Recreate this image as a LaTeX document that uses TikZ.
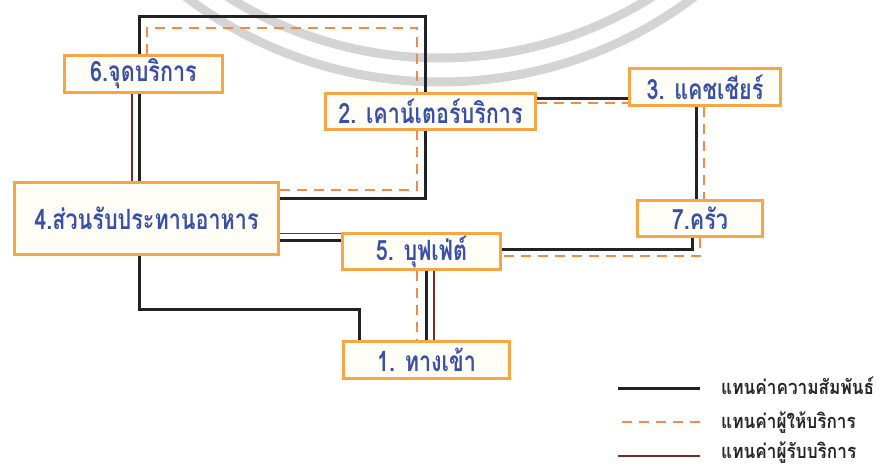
\documentclass[tikz,border=0pt]{standalone}
\usepackage{fontspec}
\newfontfamily\thaifont[Script=Thai,FakeStretch=0.77,BoldFont={Loma Bold}]{Loma}
\newfontfamily\legendfont[Script=Thai,FakeStretch=0.86,BoldFont={Loma Bold}]{Loma}
\definecolor{boxorange}{HTML}{F7A545}
\definecolor{boxfill}{HTML}{FFFEF6}
\definecolor{textblue}{HTML}{3A4FA8}
\definecolor{relblack}{HTML}{222222}
\definecolor{srvorange}{HTML}{F28A4A}
\definecolor{cusbrown}{HTML}{7B2A2A}
\definecolor{wmgray}{HTML}{D4D4D4}
\pgfdeclarelayer{background}
\pgfsetlayers{background,main}

\begin{document}
\begin{tikzpicture}[
    x=1pt, y=-1pt,
    area/.style={
        rectangle,
        draw=boxorange,
        line width=3pt,
        fill=boxfill,
        text=textblue,
        inner sep=0pt,
        font=\thaifont\bfseries\fontsize{28}{30}\selectfont
    },
    legend/.style={
        anchor=base west,
        inner sep=0pt,
        text=black!85,
        font=\legendfont\bfseries\fontsize{20}{22}\selectfont
    },
    relline/.style={
        draw=relblack,
        line width=3pt
    },
    srvline/.style={
        draw=srvorange,
        line width=2pt,
        dash pattern=on 10pt off 7pt
    },
    cusline/.style={
        draw=cusbrown,
        line width=1.6pt
    },
    wmark/.style={
        draw=wmgray,
        line width=9pt
    }
]
\useasboundingbox (0,0) rectangle (881,467);

% Areas
\node[area, minimum width=158pt, minimum height=37pt] (service) at (143.5,74) {6.จุดบริการ};
\node[area, minimum width=210pt, minimum height=36pt] (counter) at (430.5,111.5) {2. เคาน์เตอร์บริการ};
\node[area, minimum width=151pt, minimum height=37pt] (cashier) at (705,87) {3. แคชเชียร์};
\node[area, minimum width=264pt, minimum height=72pt] (dining) at (146.5,218.5) {4.ส่วนรับประทานอาหาร};
\node[area, minimum width=125pt, minimum height=36pt] (kitchen) at (700,218.5) {7.ครัว};
\node[area, minimum width=158pt, minimum height=36pt] (buffet) at (421.5,251.5) {5. บุฟเฟ่ต์};
\node[area, minimum width=166pt, minimum height=37pt] (entrance) at (426.5,360) {1. ทางเข้า};

% Legend
\node[legend] (legrel) at (721,394) {แทนค่าความสัมพันธ์};
\node[legend] (legsrv) at (721,428) {แทนค่าผู้ให้บริการ};
\node[legend] (legcus) at (721,458) {แทนค่าผู้รับบริการ};

\begin{pgfonlayer}{background}
% Watermark
\draw[wmark] (440,-340) circle (398);
\draw[wmark] (440,-340) circle (422);

% Relations
\draw[relline] ([xshift=-4.5pt]service.south) -- ([xshift=-7.5pt]dining.north);
\draw[relline] ([xshift=-4.5pt]service.north) -- ++(0,-37.5) -| ([xshift=-5.5pt]counter.north);
\draw[relline] ([yshift=20.5pt]dining.east) -| ([xshift=-5.5pt]counter.south);
\draw[relline] ([yshift=13.5pt]counter.east) -- ([yshift=-11pt]cashier.west);
\draw[relline] ([xshift=-9pt]cashier.south) -- ([xshift=-4pt]kitchen.north);
\draw[relline] ([xshift=-8pt]kitchen.south) |- ([yshift=2.5pt]buffet.east);
\draw[relline] ([yshift=-21.5pt]dining.east) -- ([yshift=11.5pt]buffet.west);
\draw[relline] ([xshift=4.5pt]buffet.south) -- ([xshift=-0.5pt]entrance.north);
\draw[relline] ([xshift=-7.5pt]dining.south) -- ++(0,53.5) -| ([xshift=-67.5pt]entrance.north);

% Service providers
\draw[srvline] ([xshift=3.5pt]service.north) -- ++(0,-26.5) -| ([xshift=-13.5pt]counter.north);
\draw[srvline] ([yshift=28.5pt]dining.east) -| ([xshift=-13.5pt]counter.south);
\draw[srvline] ([yshift=8.5pt]counter.east) -- ([yshift=-16pt]cashier.west);
\draw[srvline] ([xshift=-1pt]cashier.south) -- ([xshift=4pt]kitchen.north);
\draw[srvline] (kitchen.south) |- ([yshift=-4pt]buffet.east);
\draw[srvline] ([xshift=-4.5pt]buffet.south) -- ([xshift=-9.5pt]entrance.north);

% Service receivers
\draw[cusline] ([xshift=-11.5pt]service.south) -- ([xshift=-14.5pt]dining.north);
\draw[cusline] ([yshift=-15pt]dining.east) -- ([yshift=18pt]buffet.west);
\draw[cusline] ([xshift=12.5pt]buffet.south) -- ([xshift=7.5pt]entrance.north);

% Legend lines
\draw[relline] ([xshift=-21pt,yshift=6pt]legrel.base west) -- ++(-82,0);
\draw[srvline] ([xshift=-21pt,yshift=6pt]legsrv.base west) -- ++(-82,0);
\draw[cusline] ([xshift=-21pt,yshift=2pt]legcus.base west) -- ++(-82,0);
\end{pgfonlayer}

\end{tikzpicture}
\end{document}
